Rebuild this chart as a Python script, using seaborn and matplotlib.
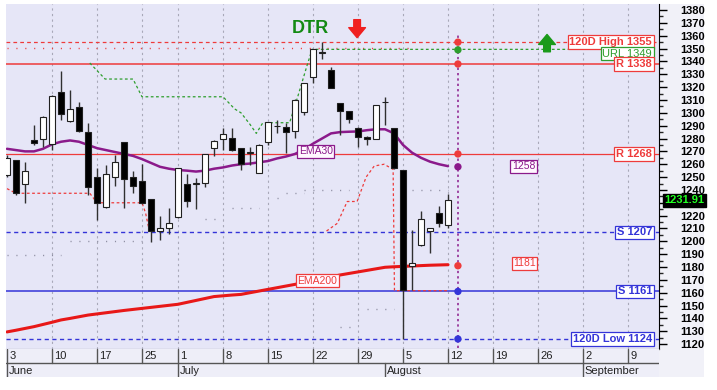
import numpy as np
import pandas as pd
import matplotlib
matplotlib.use("Agg")
import matplotlib.pyplot as plt
import seaborn as sns

# ----------------------------
# data (x = trading day index, 0 = 3 June)
# ----------------------------
opens  = [1252, 1263, 1245, 1278.8, 1279.4, 1275.7, 1316, 1293.6, 1304.3, 1285.3,
          1249.8, 1226.5, 1249.8, 1277, 1250.3, 1247, 1232.7, 1208, 1210, 1218.8,
          1244.6, 1244.5, 1245.6, 1272.4, 1279.4, 1280.2, 1272.4, 1269, 1253.4, 1277.5,
          1289.5, 1289.2, 1285.8, 1300.4, 1327.6, 1346.5, 1333.3, 1307.4, 1301.4, 1288.4,
          1281.4, 1279.6, 1308.3, 1288, 1255.5, 1180.8, 1197, 1208.2, 1221.8, 1212.7]
highs  = [1267, 1263.5, 1262, 1290.5, 1297.5, 1313.5, 1332.5, 1317.7, 1308.6, 1291.8,
          1256.8, 1259.4, 1267.2, 1277.5, 1254.7, 1260, 1233, 1219.7, 1226.2, 1257.2,
          1252.1, 1249, 1268.3, 1278.5, 1288, 1288, 1272.8, 1273.6, 1275.5, 1293.2,
          1294.4, 1291.8, 1310.5, 1323.5, 1350, 1355.5, 1336, 1307.6, 1301.6, 1288.6,
          1281.6, 1306.3, 1312.5, 1288.3, 1255.7, 1208.8, 1223.8, 1210.4, 1227.7, 1236.8]
lows   = [1250, 1236, 1229.6, 1275, 1273.6, 1271, 1294.4, 1293, 1285.3, 1236,
          1216.6, 1226, 1243, 1225.7, 1237.8, 1229, 1199.8, 1201, 1206, 1218.5,
          1227, 1224.9, 1242.5, 1266.6, 1271, 1270.5, 1255.5, 1259.4, 1253, 1275,
          1284, 1268.5, 1280.2, 1298, 1323.4, 1341.6, 1319, 1282.7, 1292.3, 1273.6,
          1275, 1279.3, 1290.5, 1256.5, 1124, 1162, 1196, 1190.6, 1210.9, 1210]
closes = [1265, 1237.5, 1254.7, 1276.3, 1297, 1313, 1299, 1303, 1286, 1242.5,
          1229.6, 1252.7, 1262, 1248.5, 1243.3, 1229.6, 1208.4, 1210.6, 1214.6, 1256.8,
          1231, 1245.5, 1267.9, 1278, 1283.3, 1271, 1260.2, 1269.5, 1275, 1292.6,
          1290, 1284.8, 1310, 1323, 1349.4, 1347, 1319, 1301.6, 1295.2, 1281.4,
          1279.6, 1306, 1308.8, 1256.8, 1162, 1182.9, 1217.4, 1210, 1214, 1231.91]

ema30 = [1272, 1271, 1270, 1270, 1272, 1275.5, 1277.5, 1278.5, 1277.5, 1275,
         1272.5, 1271, 1269.5, 1268, 1266.5, 1264, 1261, 1258, 1256.5, 1255.5,
         1255, 1254.3, 1255, 1256.5, 1257.5, 1259, 1260, 1260.5, 1261.5, 1262.5,
         1264.5, 1266, 1268, 1271.5, 1276, 1280, 1284, 1285, 1285.3, 1285.5,
         1286.5, 1287.2, 1287.2, 1284, 1275, 1269, 1265, 1262, 1260, 1258.5]
ema200 = [1129.5, 1130.8, 1132.2, 1133.6, 1135.3, 1137, 1138.8, 1140, 1141.3, 1142.6,
          1143.5, 1144.4, 1145.3, 1146.2, 1147, 1147.8, 1148.6, 1149.4, 1150.2, 1151,
          1152.5, 1154, 1155.5, 1157, 1157.6, 1158.2, 1158.7, 1160, 1161.3, 1162.6,
          1163.9, 1165.2, 1166.5, 1168, 1169.4, 1170.9, 1172.3, 1173.8, 1175, 1176.2,
          1177.4, 1178.6, 1179.8, 1180.2, 1180.5, 1180.8, 1181.1, 1181.4, 1181.6, 1181.8]

# trailing stop lines
green_x = [9.2, 10.9, 14, 15, 24, 25.3, 26, 27, 27.7, 28.4, 29, 31.4, 32.3, 33.3, 33.9, 66.2]
green_y = [1338.8, 1326.3, 1326.3, 1312.5, 1312.5, 1303, 1300, 1291, 1284, 1292, 1292.3, 1292.3, 1312.5, 1336, 1349.4, 1349.4]
red_lo_x = [0, 1, 9.2, 10, 15, 15.4, 15.8]
red_lo_y = [1241, 1237.4, 1237.4, 1230, 1230, 1222, 1208.5]
red_hi_x = [35.5, 36.7, 37.8, 38.9, 39.9, 40.8, 41.9, 42.9, 43.05, 44, 48.9]
red_hi_y = [1208, 1214, 1231, 1231, 1250, 1258.6, 1260, 1256, 1161.6, 1161.6, 1161.6]

# faint dotted levels (start, end, value)
dot_start = [0, 7, 22, 25, 30, 31, 33, 37, 40, 45]
dot_end   = [6, 15, 24, 28, 30.5, 33, 38, 38.5, 43, 49]
dot_value = [1189, 1200, 1217, 1226, 1234, 1237.5, 1240, 1133.6, 1147, 1240]

# levels and their tags
level_names  = ["120D High 1355", "URL 1349", "R 1338", "R 1268", "S 1207", "S 1161", "120D Low 1124"]
level_values = [1355, 1349, 1338, 1268, 1207, 1161, 1124]
marker_values = [1355, 1349, 1338, 1268, 1258, 1181, 1161, 1124]

week_idx    = [0, 5, 10, 15, 19, 24, 29, 34, 39, 44, 49, 54, 59, 64, 69]
week_labels = ["3", "10", "17", "25", "1", "8", "15", "22", "29", "5", "12", "19", "26", "2", "9"]
month_idx    = [0, 19, 42, 64]
month_labels = ["June", "July", "August", "September"]

RED = "#EE3B3B"
BLUE = "#3434D8"
PURPLE = "#8B1A8B"
GREEN = "#2E9E2E"
BG = "#E6E6F7"

sns.set_style("white")
plt.rcParams["font.family"] = ["Liberation Sans", "DejaVu Sans"]

fig = plt.figure(figsize=(7.17, 3.9), dpi=100)
# light strip behind the price scale
fig.patches.append(plt.Rectangle((659 / 717, 13 / 390), 45 / 717, 373 / 390,
                                 transform=fig.transFigure, fc="#F1F1F8", ec="none", zorder=-5))
ax = fig.add_axes([6 / 717, 41 / 390, 653 / 717, 345 / 390])
ax.set_facecolor(BG)
ax.set_xlim(-0.11, 72.44)
ax.set_ylim(1116.2, 1384.7)

# week grid
for w in week_idx[1:]:
    ax.axvline(w, color="#A8A8B8", lw=0.8, ls=(0, (2, 3)), zorder=0.5)

# horizontal levels
ax.axhline(1355, color=RED, lw=0.9, ls=(0, (3, 2.5)), zorder=1)
ax.plot([0, 45], [1350.2, 1350.2], color=RED, lw=1, ls=(0, (0.8, 5.6)), zorder=1)
ax.axhline(1338, color=RED, lw=1.1, zorder=1)
ax.axhline(1268, color=RED, lw=0.9, zorder=1)
ax.axhline(1207, color=BLUE, lw=1, ls=(0, (3, 2.5)), zorder=1)
ax.axhline(1161, color=BLUE, lw=1.1, zorder=1)
ax.axhline(1124, color=BLUE, lw=1, ls=(0, (3, 2.5)), zorder=1)

for s, e, v in zip(dot_start, dot_end, dot_value):
    ax.plot([s, e], [v, v], color="#8C8CA0", lw=1, ls=(0, (0.8, 5.6)), zorder=1)

ax.plot(green_x, green_y, color=GREEN, lw=0.9, ls=(0, (2.2, 2)), zorder=1.5)
ax.plot(red_lo_x, red_lo_y, color=RED, lw=0.9, ls=(0, (2.2, 2)), zorder=1.5)
ax.plot(red_hi_x, red_hi_y, color=RED, lw=0.9, ls=(0, (2.2, 2)), zorder=1.5)

# moving averages
days = np.arange(len(closes))
sns.lineplot(x=days, y=ema30, ax=ax, color=PURPLE, lw=1.8, zorder=2)
sns.lineplot(x=days, y=ema200, ax=ax, color="#E81818", lw=2.2, zorder=2)

# candles
df = pd.DataFrame({"o": opens, "h": highs, "l": lows, "c": closes})
df["lo"] = df[["o", "c"]].min(axis=1)
df["hi"] = df[["o", "c"]].max(axis=1)
df["up"] = df["c"] >= df["o"]
ax.vlines(days, df["l"], df["h"], color="#303030", lw=1, zorder=3)
ax.bar(days, (df["hi"] - df["lo"]).clip(lower=0.4), bottom=df["lo"], width=0.68,
       color=np.where(df["up"], "white", "black"), edgecolor="#202020", lw=0.8, zorder=4)

# right-hand markers and vertical line
ax.plot([50.1, 50.1], [1117, 1362], color=PURPLE, lw=1.1, ls=(0, (1.5, 2)), zorder=2)
mcols = [RED, GREEN, RED, RED, PURPLE, RED, BLUE, BLUE]
ax.scatter([50.1] * len(marker_values), marker_values, s=28, c=mcols, zorder=5, linewidths=0)

# level tags
tag_cols = [RED, GREEN, RED, RED, BLUE, BLUE, BLUE]
for name, v, col in zip(level_names, level_values, tag_cols):
    yoff = -3.0 if name.startswith("URL") else 0
    ax.text(71.65, v + yoff, name, ha="right", va="center", fontsize=8,
            fontweight="normal" if name.startswith("URL") else "bold", color=col, zorder=6,
            bbox=dict(boxstyle="square,pad=0.15", fc="white", ec=col, lw=0.9))

for txt, xx, yy, col in [("EMA30", 34.3, 1270, PURPLE), ("EMA200", 34.5, 1169.5, RED),
                         ("1258", 57.4, 1258.5, PURPLE), ("1181", 57.5, 1183, RED)]:
    ax.text(xx, yy, txt, ha="center", va="center", fontsize=7.5, color=col, zorder=6,
            bbox=dict(boxstyle="square,pad=0.15", fc="#FFF8FF", ec=col, lw=0.9))

ax.text(33.7, 1366, "DTR", ha="center", va="center", fontsize=13, fontweight="bold", color="#138A13")
ax.annotate("", xy=(38.9, 1358.5), xytext=(38.9, 1372.5),
            arrowprops=dict(arrowstyle="simple,head_length=0.6,head_width=1.0,tail_width=0.4",
                            color="#F02020", mutation_scale=12, shrinkA=0, shrinkB=0))
ax.annotate("", xy=(60, 1361), xytext=(60, 1347.5),
            arrowprops=dict(arrowstyle="simple,head_length=0.6,head_width=1.0,tail_width=0.4",
                            color="#1A9A1A", mutation_scale=12, shrinkA=0, shrinkB=0))

# right axis
ax.yaxis.tick_right()
yt = list(range(1120, 1381, 10))
ax.set_yticks(yt)
ax.set_yticklabels(["" if t == 1230 else str(t) for t in yt], fontsize=8, fontweight="bold")
ax.set_yticks(list(range(1125, 1381, 10)), minor=True)
ax.tick_params(axis="y", which="major", length=6, width=1, pad=9, colors="black", right=True, left=False)
ax.tick_params(axis="y", which="minor", length=3, width=1, right=True, left=False)
ax.set_xticks([])
ax.annotate("1231.91", xy=(1.0, 1232), xycoords=ax.get_yaxis_transform(),
            xytext=(4, 0), textcoords="offset points", ha="left", va="center",
            fontsize=8, fontweight="bold", color="#22FF22", zorder=7, annotation_clip=False,
            bbox=dict(boxstyle="square,pad=0.12", fc="black", ec="black"))
for sp in ["top", "left"]:
    ax.spines[sp].set_visible(False)
ax.spines["right"].set_color("black")
ax.spines["bottom"].set_color("#555555")

# date panel
ax2 = fig.add_axes([6 / 717, 13 / 390, 653 / 717, 28 / 390])
ax2.set_facecolor("#EEEEF8")
ax2.set_xlim(ax.get_xlim())
ax2.set_ylim(0, 2)
ax2.axhline(1, color="#555555", lw=1)
for w, lab in zip(week_idx, week_labels):
    ax2.plot([w, w], [1, 2], color="#555555", lw=1)
    ax2.text(w + 0.25, 1.5, lab, ha="left", va="center", fontsize=8, color="#222222")
for m, lab in zip(month_idx, month_labels):
    ax2.plot([m, m], [0, 1], color="#555555", lw=1)
    ax2.text(m + 0.2, 0.45, lab, ha="left", va="center", fontsize=8, color="#222222")
ax2.set_xticks([])
ax2.set_yticks([])
for sp in ax2.spines.values():
    sp.set_visible(False)

fig.savefig("out.png", dpi=100)
